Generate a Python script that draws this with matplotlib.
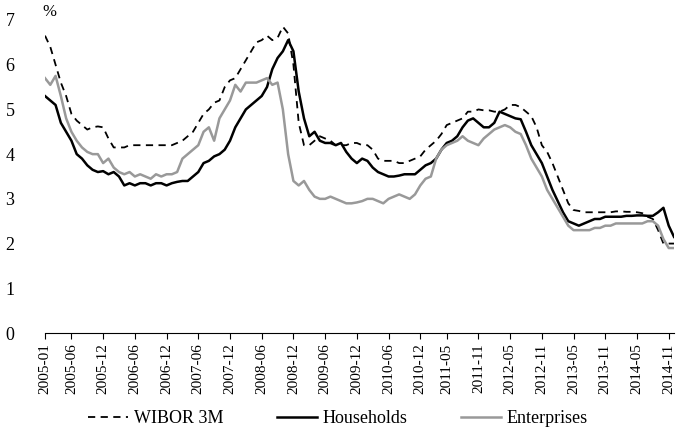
import matplotlib
matplotlib.use("Agg")
import matplotlib.pyplot as plt
import numpy as np

plt.rcParams['font.family'] = ['Liberation Serif']

wibor = [6.65,6.4,6.0,5.6,5.3,4.9,4.75,4.65,4.55,4.6,4.62,4.6,
 4.35,4.15,4.15,4.15,4.2,4.2,4.2,4.2,4.2,4.2,4.2,4.2,
 4.2,4.25,4.3,4.4,4.5,4.7,4.9,5.0,5.15,5.2,5.5,5.65,
 5.7,5.9,6.1,6.3,6.5,6.55,6.65,6.55,6.6,6.85,6.7,6.0,
 4.7,4.2,4.2,4.3,4.4,4.35,4.3,4.2,4.2,4.2,4.25,4.25,
 4.2,4.2,4.1,3.9,3.85,3.85,3.85,3.8,3.8,3.85,3.9,3.95,
 4.1,4.2,4.3,4.45,4.65,4.7,4.75,4.8,4.95,4.95,5.0,4.98,
 4.98,4.95,4.95,5.0,5.1,5.1,5.05,4.95,4.85,4.6,4.2,4.05,
 3.8,3.5,3.2,2.9,2.75,2.73,2.7,2.7,2.7,2.7,2.7,2.7,
 2.72,2.72,2.71,2.71,2.7,2.68,2.6,2.55,2.3,2.0,2.0,2.0]
households = [5.3,5.2,5.1,4.7,4.5,4.3,4.0,3.9,3.75,3.65,3.6,3.62,
 3.55,3.6,3.5,3.3,3.35,3.3,3.35,3.35,3.3,3.35,3.35,3.3,
 3.35,3.38,3.4,3.4,3.5,3.6,3.8,3.85,3.95,4.0,4.1,4.3,
 4.6,4.8,5.0,5.1,5.2,5.3,5.5,5.9,6.15,6.3,6.55,6.3,
 5.4,4.8,4.4,4.5,4.3,4.25,4.25,4.2,4.25,4.05,3.9,3.8,
 3.9,3.85,3.7,3.6,3.55,3.5,3.5,3.52,3.55,3.55,3.55,3.65,
 3.75,3.8,3.9,4.1,4.25,4.3,4.4,4.6,4.75,4.8,4.7,4.6,
 4.6,4.7,4.95,4.9,4.85,4.8,4.78,4.5,4.2,4.0,3.8,3.5,
 3.2,2.95,2.7,2.5,2.45,2.4,2.45,2.5,2.55,2.55,2.6,2.6,
 2.6,2.6,2.62,2.62,2.63,2.63,2.62,2.62,2.7,2.8,2.4,2.15]
enterprises = [5.7,5.55,5.75,5.3,4.8,4.5,4.3,4.15,4.05,4.0,4.0,3.8,
 3.9,3.7,3.6,3.55,3.6,3.5,3.55,3.5,3.45,3.55,3.5,3.55,
 3.55,3.6,3.9,4.0,4.1,4.2,4.5,4.6,4.3,4.8,5.0,5.2,
 5.55,5.4,5.6,5.6,5.6,5.65,5.7,5.55,5.6,5.0,4.0,3.4,
 3.3,3.4,3.2,3.05,3.0,3.0,3.05,3.0,2.95,2.9,2.9,2.92,
 2.95,3.0,3.0,2.95,2.9,3.0,3.05,3.1,3.05,3.0,3.1,3.3,
 3.45,3.5,3.9,4.1,4.2,4.25,4.3,4.4,4.3,4.25,4.2,4.35,
 4.45,4.55,4.6,4.65,4.6,4.5,4.45,4.2,3.9,3.7,3.5,3.2,
 3.0,2.8,2.6,2.4,2.3,2.3,2.3,2.3,2.35,2.35,2.4,2.4,
 2.45,2.45,2.45,2.45,2.45,2.45,2.5,2.5,2.4,2.1,1.9,1.9]
tick_labels = ["2005-01","2005-06","2005-12","2006-06","2006-12","2007-06","2007-12",
 "2008-06","2008-12","2009-06","2009-12","2010-06","2010-12","2011-05","2011-11",
 "2012-05","2012-11","2013-05","2013-11","2014-05","2014-11"]

def idx(s):
    y, m = s.split("-")
    return (int(y)-2005)*12 + int(m)-1

x = np.arange(len(wibor))
fig = plt.figure(figsize=(6.76,4.37), dpi=100)
ax = fig.add_axes([45/676, 104/437, 629/676, 313/437])
ax.plot(x, wibor, color='black', ls=(0,(4,3)), lw=1.3, label='WIBOR 3M')
ax.plot(x, households, color='black', lw=1.8, label='Households')
ax.plot(x, enterprises, color='#999999', lw=1.8, label='Enterprises')
ax.set_xlim(0, 119)
ax.set_ylim(0, 7)
ax.set_yticks(range(8))
ax.set_xticks([idx(t) for t in tick_labels])
ax.set_xticklabels(tick_labels, rotation=90, fontsize=11)
ax.tick_params(axis='y', labelsize=13, length=0, pad=22)
ax.tick_params(axis='x', length=4, direction='out')
for s in ['top','right','left']:
    ax.spines[s].set_visible(False)
ax.text(-0.5, 7.0, '%', fontsize=12, va='bottom', ha='left', transform=ax.transData)
fig.legend(loc='lower center', bbox_to_anchor=(0.5, -0.015), ncol=3, frameon=False,
           fontsize=13, handlelength=2.2, handletextpad=0.3, columnspacing=3)
fig.savefig('out.png', dpi=100)
